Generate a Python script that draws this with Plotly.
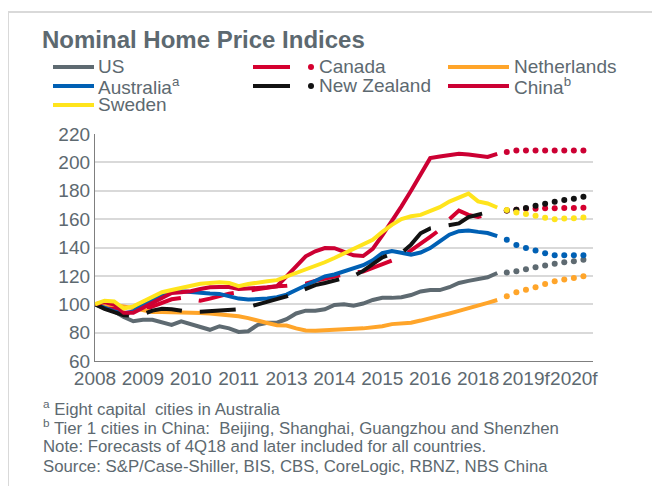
import plotly.graph_objects as go

# ---------------- data ----------------
quarters = [f"{y}Q{q}" for y in range(2008, 2021) for q in range(1, 5)]  # 2008Q1..2020Q4
tick_quarters = ["2008Q1", "2009Q2", "2010Q3", "2011Q4", "2013Q1", "2014Q2",
                 "2015Q3", "2016Q4", "2018Q1", "2019Q2", "2020Q3"]
tick_labels = ["2008", "2009", "2010", "2011", "2013", "2014",
               "2015", "2016", "2018", "2019f", "2020f"]
y_ticks = [60, 80, 100, 120, 140, 160, 180, 200, 220]

# actual values 2008Q1..2018Q3
us = [100, 98, 95, 91, 88, 89, 89, 87.5, 85.5, 88, 86, 83.5, 82, 84.5, 83, 80.5,
      81, 85.5, 87, 87, 89.5, 93.5, 95.5, 95.5, 96.5, 99.5, 100, 99, 100.5, 103,
      104.5, 104.5, 105, 106.5, 109, 110, 110, 112, 115, 116.5, 117.5, 119, 122]
canada = [100, 99, 97, 94, 93.5, 96, 99, 101.5, 103.5, 104.5, 103.5, 102.5, 104, 106,
          107.5, 108.5, 109.5, 110.5, 112, 112.7, 113, 113.5, 114.5, 116.5, 118, 120,
          121.5, 122.5, 123, 125.5, 128, 130.5, 133.5, 138, 142.5, 147.5, 152.5, 160,
          166, 163, 161.5, 163.5, 165.5]
netherlands = [100, 100, 99.5, 98.5, 97, 95.5, 94.5, 94.5, 94.5, 94.5, 94.3, 93.8,
               93.5, 93, 92.3, 91.6, 90.2, 88.8, 86.8, 85.2, 85, 83, 81.5, 81.3, 81.5,
               81.8, 82, 82.7, 83, 83.4, 84.5, 86, 86.3, 87, 88.5, 90, 91.8, 93.5, 95.3,
               97, 99, 101, 103]
australia = [100, 97.5, 95, 93.5, 95, 99.8, 103.3, 106, 108.5, 109.2, 108.5, 108,
             107.5, 107.3, 105.7, 104, 103.3, 103.3, 104, 105, 106.8, 110, 113.2, 116.7,
             119.7, 121, 123.2, 125, 127.5, 131, 136, 137.5, 136, 135, 136.5, 139.6,
             144.3, 149, 151.5, 152, 151, 150.2, 148]
new_zealand = [100, 96.8, 94.4, 92.3, 92, 93, 95.5, 96.8, 96.5, 95.3, 94.5, 94.7, 95,
               95.5, 96, 96.5, 98, 99.8, 101.5, 103.5, 105.5, 108, 111, 113.5, 115,
               116.5, 117.8, 120, 123.5, 128, 133, 135.5, 136, 142, 150, 153.5, 154.5,
               156, 157, 161.5, 163.5, 164.8, 165.2]
china = [100, 101.5, 99.8, 94, 94, 97.5, 101, 105, 108, 108.5, 109.2, 110.8, 112,
         112.2, 112.2, 110.8, 110.8, 111.5, 112, 112.7, 119.7, 126.7, 133.8, 137.3,
         139.6, 139.5, 137, 134.5, 134, 139, 148.5, 158.5, 169, 180, 191.5, 203, 204.2,
         205.3, 206, 205.5, 204.8, 203.8, 206]
sweden = [100, 102.5, 102, 97, 98.5, 102, 105.5, 108.5, 110, 111.5, 113, 114.5, 115,
          115.5, 115, 112.7, 114.3, 115.5, 116.2, 117, 119.5, 122, 124.4, 126.7, 129.6,
          132.6, 136, 139, 142.5, 145.5, 151, 156, 160, 162, 163, 165.5, 168.4, 172.4,
          175.5, 178, 172.5, 171, 168.2]

# forecasts 2018Q4..2020Q4
us_f = [122.3, 123.2, 124.6, 126, 127.4, 128.6, 129.6, 130.3, 131.4]
canada_f = [166, 166.6, 167.3, 167.3, 167.6, 167.6, 167.8, 167.8, 168]
netherlands_f = [105.7, 108.5, 110.3, 112, 114.3, 116.2, 117.4, 118.5, 119.7]
australia_f = [145.5, 141.7, 139.6, 137.8, 136, 134.5, 134.5, 134.5, 134.5]
new_zealand_f = [166.1, 166.6, 167.8, 169.5, 170.9, 172.3, 173.5, 174.4, 175.8]
china_f = [207.3, 208.3, 208.3, 208.3, 208.3, 208.3, 208.3, 208.3, 208.3]
sweden_f = [166.4, 164.7, 163.7, 162.4, 161, 160, 160.5, 160.7, 161.2]

# ---------------- styling ----------------
C_US = "#5e6a71"
C_CAN = "#d5002f"
C_NL = "#ffa52a"
C_AU = "#0060b4"
C_NZ = "#121212"
C_CN = "#cc0033"
C_SE = "#ffe41c"
TXT = "#5d6970"
FONT = "Liberation Sans, Arial, sans-serif"
DASH = "36px,18px"

series = [
    ("US", us, us_f, C_US, "solid"),
    ("Canada", canada, canada_f, C_CAN, DASH),
    ("Netherlands", netherlands, netherlands_f, C_NL, "solid"),
    ("Australia", australia, australia_f, C_AU, "solid"),
    ("New Zealand", new_zealand, new_zealand_f, C_NZ, DASH),
    ("China", china, china_f, C_CN, "solid"),
    ("Sweden", sweden, sweden_f, C_SE, "solid"),
]

fig = go.Figure()
for name, act, fc, col, dash in series:
    n = len(act)
    fig.add_trace(go.Scatter(x=quarters[:n], y=act, mode="lines", name=name,
                             line=dict(color=col, width=4, dash=dash),
                             showlegend=False, hoverinfo="skip"))
for name, act, fc, col, dash in series:
    n = len(act)
    fig.add_trace(go.Scatter(x=quarters[n:n + len(fc)], y=fc, mode="markers",
                             name=name + " forecast",
                             marker=dict(color=col, size=6, line=dict(width=0)),
                             showlegend=False, hoverinfo="skip"))

# ---------------- layout ----------------
# page offset: the html body has an 8px margin, so the figure is drawn 8px right/down.
OFF = 8
W, H = 660, 486
# plot area in page pixels: x 95..593, y 134..361
ML = 95 - OFF
MT = 134 - OFF
MR = W - (593 - OFF)
MB = H - (361 - OFF)
PW, PH = W - ML - MR, H - MT - MB


def px(x):  # page pixel -> paper
    return (x - OFF - ML) / PW


def py(y):  # page pixel -> paper
    return (H - MB - (y - OFF)) / PH


shapes = []
annotations = []

# frame lines (left and top, light grey)
shapes.append(dict(type="line", xref="paper", yref="paper", x0=px(8), x1=px(8),
                   y0=py(12), y1=py(486), line=dict(color="#d9d9d9", width=2)))
shapes.append(dict(type="line", xref="paper", yref="paper", x0=px(7), x1=px(668),
                   y0=py(12), y1=py(12), line=dict(color="#d9d9d9", width=2)))

# legend
legend_items = [
    # (label, color, x_line0, x_line1, dot_x, text_x, y)
    ("US", C_US, 53, 94, None, 96, 67),
    ("Canada", C_CAN, 253, 290, 311, 317, 67),
    ("Netherlands", C_NL, 448, 509, None, 512, 67),
    ("Australia<sup>a</sup>", C_AU, 53, 94, None, 96, 86),
    ("New Zealand", C_NZ, 253, 290, 311, 317, 86),
    ("China<sup>b</sup>", C_CN, 448, 509, None, 512, 86),
    ("Sweden", C_SE, 53, 94, None, 96, 105),
]
for lab, col, x0, x1, dx, tx, yy in legend_items:
    shapes.append(dict(type="line", xref="paper", yref="paper", x0=px(x0), x1=px(x1),
                       y0=py(yy), y1=py(yy), line=dict(color=col, width=4)))
    if dx is not None:
        shapes.append(dict(type="circle", xref="paper", yref="paper",
                           x0=px(dx - 3), x1=px(dx + 3), y0=py(yy - 3), y1=py(yy + 3),
                           fillcolor=col, line=dict(width=0)))
    annotations.append(dict(text=lab, xref="paper", yref="paper", x=px(tx), y=py(yy),
                            xanchor="left", yanchor="middle", showarrow=False,
                            font=dict(family=FONT, size=19, color=TXT)))

# title
annotations.append(dict(text="<b>Nominal Home Price Indices</b>", xref="paper", yref="paper",
                        x=px(40), y=py(39), xanchor="left", yanchor="middle",
                        showarrow=False, font=dict(family=FONT, size=24, color=TXT)))

# footnotes
notes = [
    "<sup>a</sup> Eight capital\u00a0 cities in Australia",
    "<sup>b</sup> Tier 1 cities in China:\u00a0 Beijing, Shanghai, Guangzhou and Shenzhen",
    "Note: Forecasts of 4Q18 and later included for all countries.",
    "Source: S&P/Case-Shiller, BIS, CBS, CoreLogic, RBNZ, NBS China",
]
for i, t in enumerate(notes):
    annotations.append(dict(text=t, xref="paper", yref="paper", x=px(41), y=py(408 + 19.4 * i),
                            xanchor="left", yanchor="middle", showarrow=False,
                            font=dict(family=FONT, size=16.8, color=TXT)))

fig.update_layout(
    width=W, height=H,
    margin=dict(l=ML, r=MR, t=MT, b=MB, pad=0, autoexpand=False),
    paper_bgcolor="white", plot_bgcolor="white",
    showlegend=False,
    shapes=shapes, annotations=annotations,
    font=dict(family=FONT, color=TXT),
    xaxis=dict(type="category", categoryorder="array", categoryarray=quarters,
               range=[0, 52], tickmode="array", tickvals=tick_quarters, ticktext=tick_labels,
               tickangle=0, automargin=False,
               showgrid=False, zeroline=False, showline=True, linecolor="#7f7f7f",
               linewidth=1.3, ticks="", tickfont=dict(family=FONT, size=19, color=TXT),
               ticklabelstandoff=0, fixedrange=True),
    yaxis=dict(range=[60, 220], tickmode="array", tickvals=y_ticks, automargin=False,
               showgrid=True, gridcolor="#d9d9d9", gridwidth=1.5, zeroline=False,
               showline=True, linecolor="#7f7f7f", linewidth=1.3, ticks="",
               tickfont=dict(family=FONT, size=19, color=TXT), ticklabelstandoff=0,
               fixedrange=True),
)

fig.write_html("out.html")
